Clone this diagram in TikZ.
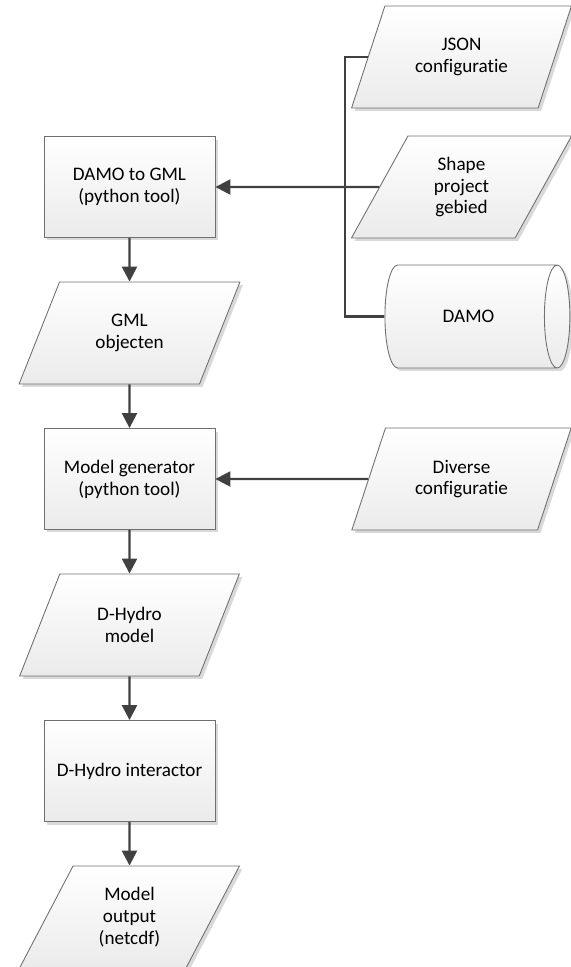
\documentclass[tikz,border=0pt]{standalone}
\usepackage{fontspec}
\setmainfont{Carlito}[Ligatures=NoCommon]
\usetikzlibrary{shapes.geometric,arrows.meta,shadows}
\definecolor{linegrey}{HTML}{404040}
\definecolor{edgegrey}{HTML}{707070}
\begin{document}
\begin{tikzpicture}[x=0.02cm,y=-0.02cm,
  font=\fontsize{10.9}{12.4}\selectfont,
  base/.style={draw=edgegrey, line width=0.5pt, top color=white, bottom color=black!8, align=center, inner sep=2pt,
    drop shadow={shadow xshift=0.06cm, shadow yshift=-0.06cm, fill=black!25, opacity=0.6}},
  proc/.style={base, rectangle, minimum width=3.42cm, minimum height=2.02cm},
  data/.style={base, trapezium, trapezium left angle=64, trapezium right angle=116, trapezium stretches=true,
    minimum width=4.42cm, minimum height=2.04cm},
  store/.style={base, cylinder, aspect=1.3, minimum width=2.06cm, minimum height=3.7cm},
  conn/.style={draw=linegrey, line width=1.4pt, -{Triangle[length=0.3cm,width=0.3cm]}},
  bus/.style={draw=linegrey, line width=1.4pt}]
\useasboundingbox (0,0) rectangle (571,967);
\node[proc] (dtog) at (129.5,187) {DAMO to GML\\(python tool)};
\node[data] (gml) at (129.5,333) {GML\\objecten};
\node[proc] (mgen) at (129.5,479) {Model generator\\(python tool)};
\node[data] (dhm) at (129.5,625) {D-Hydro\\model};
\node[proc] (dhi) at (129.5,771) {D-Hydro interactor};
\node[data] (mout) at (129.5,917) {Model\\output\\(netcdf)};
\node[data] (json) at (461.5,57) {JSON\\configuratie};
\node[data] (shp) at (461.5,187) {Shape\\project\\gebied};
\node[store] (damo) at (468.5,316.5) {DAMO};
\node[data] (div) at (461.5,479) {Diverse\\configuratie};
\coordinate (busx) at (345,0);
\draw[bus] (json.west) -- (json.west -| busx) |- (damo.west);
\draw[conn] (shp.west) -- (dtog.east);
\draw[conn] (div.west) -- (mgen.east);
\draw[conn] (dtog) -- (gml);
\draw[conn] (gml) -- (mgen);
\draw[conn] (mgen) -- (dhm);
\draw[conn] (dhm) -- (dhi);
\draw[conn] (dhi) -- (mout);
\end{tikzpicture}
\end{document}
